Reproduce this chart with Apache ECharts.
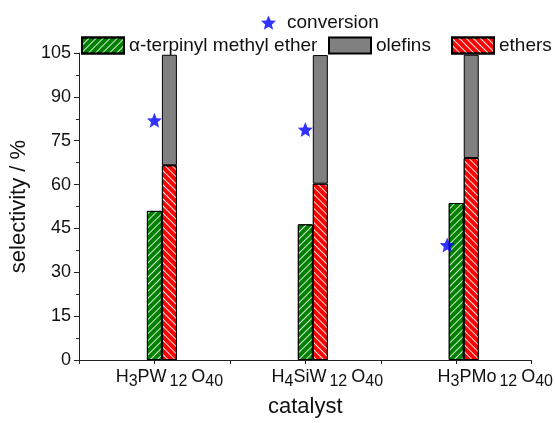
<!DOCTYPE html>
<html>
<head>
<meta charset="utf-8">
<script src="https://cdn.jsdelivr.net/npm/echarts@6/dist/echarts.min.js"></script>
<style>html,body{margin:0;padding:0;background:#fff}#c{width:555px;height:423px}</style>
</head>
<body>
<div id="c"></div>
<script>
// ---- data ----
const catalystParts = [
  ['H','3','PW','12','O','40'],
  ['H','4','SiW','12','O','40'],
  ['H','3','PMo','12','O','40']
];
const catalystPos = [1, 2, 3];
const terpinylEther = [51.0, 46.4, 53.7];
const ethers = [66.6, 60.3, 69.1];
const olefins = [37.8, 44.0, 35.3];
const conversionX = [1.0, 2.0, 2.94];
const conversionY = [82.0, 78.8, 39.3];
const yTicks = [0, 15, 30, 45, 60, 75, 90, 105];

const FONT = '"Liberation Sans", Arial, sans-serif';
const STAR = 'path://M12,2 L14.9,8.9 L22,9.3 L16.5,14 L18.2,21 L12,17.2 L5.8,21 L7.5,14 L2,9.3 L9.1,8.9 Z';
const labelShift = [30, 44, 78];

function richLabel(parts, i) {
  return '{p' + i + '|}' + '{n|' + parts[0] + '}{s|' + parts[1] + '}{n|' + parts[2] + '}{t|' + parts[3] + '}{m|' + parts[4] + '}{s|' + parts[5] + '}';
}
const rich = {
  n: {fontSize: 18, fontFamily: FONT, color: '#111', lineHeight: 20, verticalAlign: 'top'},
  m: {fontSize: 18, fontFamily: FONT, color: '#111', lineHeight: 20, verticalAlign: 'top', padding: [0, 0, 0, 4]},
  s: {fontSize: 16, fontFamily: FONT, color: '#111', lineHeight: 20, verticalAlign: 'top', padding: [6, 0, 0, 0]},
  t: {fontSize: 16, fontFamily: FONT, color: '#111', lineHeight: 20, verticalAlign: 'top', padding: [6, 0, 0, 3]}
};
labelShift.forEach((w, i) => { rich['p' + i] = {width: w, height: 1}; });

const decalGreen = {symbol: 'rect', symbolSize: 1, color: 'rgba(255,255,255,0.85)', dashArrayX: [1, 0], dashArrayY: [1, 4], rotation: -Math.PI / 4};
const decalRed = {symbol: 'rect', symbolSize: 1, color: 'rgba(255,255,255,0.9)', dashArrayX: [1, 0], dashArrayY: [1, 4], rotation: Math.PI / 4};

const chart = echarts.init(document.getElementById('c'), null, {renderer: 'canvas'});
const axisColor = '#222';
const legendText = {fontFamily: FONT, fontSize: 19, color: '#111'};

chart.setOption({
  animation: false,
  aria: {enabled: false, decal: {show: false}},
  grid: {left: 73, top: 53, width: 459, height: 311, containLabel: false},
  legend: [
    {data: ['conversion'], left: 261, top: 13, padding: 0, icon: STAR, itemWidth: 15, itemHeight: 15, textStyle: Object.assign({padding: [0, 0, 0, 6]}, legendText), selectedMode: false},
    {data: ['α-terpinyl methyl ether'], left: 81, top: 36, padding: 0, icon: 'rect', itemWidth: 42, itemHeight: 16, textStyle: legendText, selectedMode: false},
    {data: ['olefins'], left: 328, top: 36, padding: 0, icon: 'rect', itemWidth: 42, itemHeight: 16, textStyle: legendText, selectedMode: false},
    {data: ['ethers'], left: 451, top: 36, padding: 0, icon: 'rect', itemWidth: 42, itemHeight: 16, textStyle: legendText, selectedMode: false}
  ],
  xAxis: [
    {
      type: 'value', min: 0.5, max: 3.5, interval: 0.5,
      name: 'catalyst', nameLocation: 'middle', nameGap: 36,
      nameTextStyle: {fontFamily: FONT, fontSize: 22, color: '#111'},
      axisLine: {show: true, lineStyle: {color: axisColor, width: 1}},
      axisTick: {show: true, length: 4, lineStyle: {color: axisColor}},
      splitLine: {show: false},
      axisLabel: {
        margin: 8, showMinLabel: true, showMaxLabel: true,
        formatter: function (v) {
          const idx = catalystPos.indexOf(Math.round(v * 100) / 100);
          return idx >= 0 ? richLabel(catalystParts[idx], idx) : '';
        },
        rich: rich
      }
    },
    {type: 'category', data: catalystPos.map(String), show: false, boundaryGap: true}
  ],
  yAxis: {
    type: 'value', min: 0, max: 105, interval: 15,
    name: 'selectivity / %', nameLocation: 'middle', nameGap: 40,
    nameTextStyle: {fontFamily: FONT, fontSize: 22, color: '#111'},
    axisLine: {show: true, lineStyle: {color: axisColor, width: 1}},
    axisTick: {show: true, length: 5, lineStyle: {color: axisColor}},
    minorTick: {show: true, splitNumber: 2, length: 3, lineStyle: {color: axisColor}},
    splitLine: {show: false},
    axisLabel: {fontFamily: FONT, fontSize: 18, color: '#111', margin: 8,
      formatter: function (v) { return yTicks.indexOf(v) >= 0 ? String(v) : ''; }}
  },
  series: [
    {name: 'dummy', type: 'bar', xAxisIndex: 1, stack: 'd', barWidth: 15, barGap: '0%', data: [0, 0, 0], itemStyle: {color: 'transparent'}, silent: true},
    {name: 'α-terpinyl methyl ether', type: 'bar', xAxisIndex: 1, stack: 'g', barWidth: 15, barGap: '0%', data: terpinylEther,
      itemStyle: {color: '#008000', borderColor: '#000', borderWidth: 1, decal: decalGreen}},
    {name: 'ethers', type: 'bar', xAxisIndex: 1, stack: 'r', barWidth: 15, barGap: '0%', data: ethers,
      itemStyle: {color: '#ff0000', borderColor: '#000', borderWidth: 1, decal: decalRed}},
    {name: 'olefins', type: 'bar', xAxisIndex: 1, stack: 'r', barWidth: 15, barGap: '0%', data: olefins,
      itemStyle: {color: '#808080', borderColor: '#000', borderWidth: 1}},
    {name: 'conversion', type: 'scatter', xAxisIndex: 0, symbol: STAR, symbolSize: 15,
      data: conversionX.map((x, i) => [x, conversionY[i]]),
      itemStyle: {color: '#0000ff'}}
  ]
});
</script>
</body>
</html>
